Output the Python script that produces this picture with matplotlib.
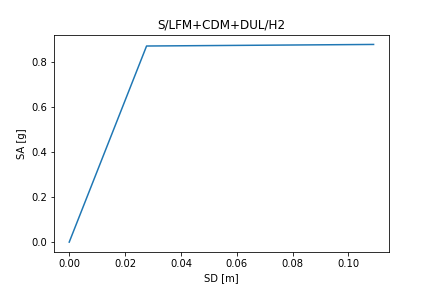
import matplotlib
matplotlib.use("Agg")
import matplotlib.pyplot as plt

# capacity curve points
sd = [0.0, 0.0277, 0.109]
sa = [0.0, 0.873, 0.880]

fig, ax = plt.subplots(figsize=(6, 4), dpi=72)
fig.subplots_adjust(bottom=0.125)
ax.plot(sd, sa)
ax.set_xlabel('SD [m]')
ax.set_ylabel('SA [g]')
ax.set_title('S/LFM+CDM+DUL/H2')

plt.savefig('out.png', dpi=72)
